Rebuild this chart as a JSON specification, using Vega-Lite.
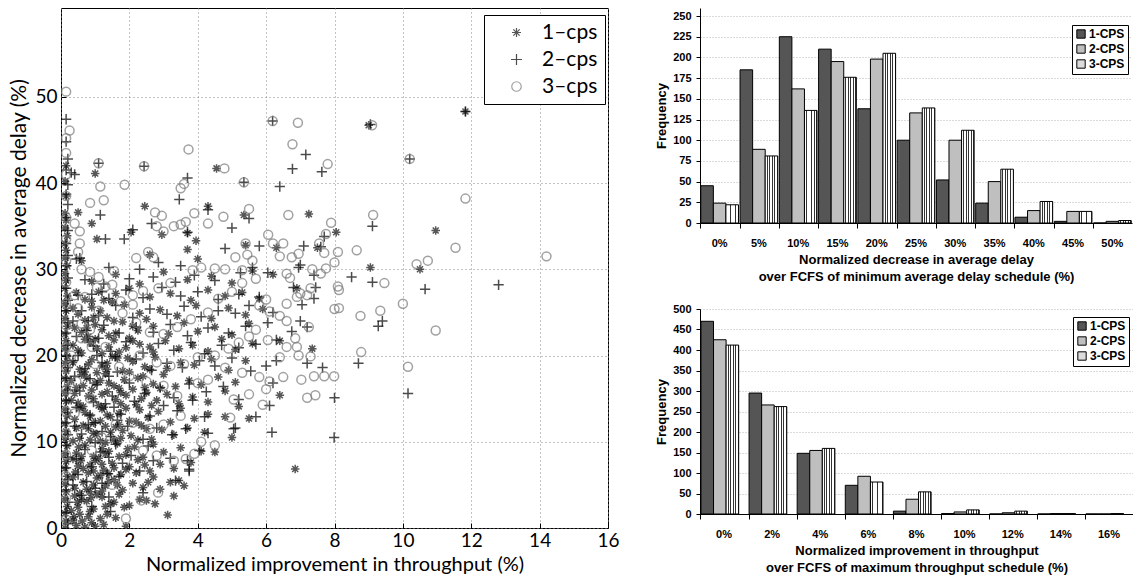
{
  "$schema": "https://vega.github.io/schema/vega-lite/v6.json",
  "background": "white",
  "padding": {"left": 8, "top": 7, "right": 0, "bottom": 0},
  "config": {"font": "Liberation Sans", "view": {"stroke": null}},
  "datasets": {
    "delay": [
      {"bin": "0%", "cps": "1-CPS", "n": 45}, {"bin": "0%", "cps": "2-CPS", "n": 24}, {"bin": "0%", "cps": "3-CPS", "n": 22},
      {"bin": "5%", "cps": "1-CPS", "n": 185}, {"bin": "5%", "cps": "2-CPS", "n": 89}, {"bin": "5%", "cps": "3-CPS", "n": 81},
      {"bin": "10%", "cps": "1-CPS", "n": 225}, {"bin": "10%", "cps": "2-CPS", "n": 162}, {"bin": "10%", "cps": "3-CPS", "n": 136},
      {"bin": "15%", "cps": "1-CPS", "n": 210}, {"bin": "15%", "cps": "2-CPS", "n": 195}, {"bin": "15%", "cps": "3-CPS", "n": 176},
      {"bin": "20%", "cps": "1-CPS", "n": 138}, {"bin": "20%", "cps": "2-CPS", "n": 198}, {"bin": "20%", "cps": "3-CPS", "n": 205},
      {"bin": "25%", "cps": "1-CPS", "n": 100}, {"bin": "25%", "cps": "2-CPS", "n": 133}, {"bin": "25%", "cps": "3-CPS", "n": 139},
      {"bin": "30%", "cps": "1-CPS", "n": 52}, {"bin": "30%", "cps": "2-CPS", "n": 100}, {"bin": "30%", "cps": "3-CPS", "n": 112},
      {"bin": "35%", "cps": "1-CPS", "n": 24}, {"bin": "35%", "cps": "2-CPS", "n": 50}, {"bin": "35%", "cps": "3-CPS", "n": 65},
      {"bin": "40%", "cps": "1-CPS", "n": 7}, {"bin": "40%", "cps": "2-CPS", "n": 15}, {"bin": "40%", "cps": "3-CPS", "n": 26},
      {"bin": "45%", "cps": "1-CPS", "n": 2}, {"bin": "45%", "cps": "2-CPS", "n": 14}, {"bin": "45%", "cps": "3-CPS", "n": 14},
      {"bin": "50%", "cps": "1-CPS", "n": 0}, {"bin": "50%", "cps": "2-CPS", "n": 2}, {"bin": "50%", "cps": "3-CPS", "n": 3}
    ],
    "thru": [
      {"bin": "0%", "cps": "1-CPS", "n": 470}, {"bin": "0%", "cps": "2-CPS", "n": 425}, {"bin": "0%", "cps": "3-CPS", "n": 412},
      {"bin": "2%", "cps": "1-CPS", "n": 295}, {"bin": "2%", "cps": "2-CPS", "n": 266}, {"bin": "2%", "cps": "3-CPS", "n": 262},
      {"bin": "4%", "cps": "1-CPS", "n": 148}, {"bin": "4%", "cps": "2-CPS", "n": 155}, {"bin": "4%", "cps": "3-CPS", "n": 160},
      {"bin": "6%", "cps": "1-CPS", "n": 70}, {"bin": "6%", "cps": "2-CPS", "n": 92}, {"bin": "6%", "cps": "3-CPS", "n": 78},
      {"bin": "8%", "cps": "1-CPS", "n": 7}, {"bin": "8%", "cps": "2-CPS", "n": 36}, {"bin": "8%", "cps": "3-CPS", "n": 54},
      {"bin": "10%", "cps": "1-CPS", "n": 1}, {"bin": "10%", "cps": "2-CPS", "n": 5}, {"bin": "10%", "cps": "3-CPS", "n": 10},
      {"bin": "12%", "cps": "1-CPS", "n": 0}, {"bin": "12%", "cps": "2-CPS", "n": 3}, {"bin": "12%", "cps": "3-CPS", "n": 7},
      {"bin": "14%", "cps": "1-CPS", "n": 0}, {"bin": "14%", "cps": "2-CPS", "n": 1}, {"bin": "14%", "cps": "3-CPS", "n": 1},
      {"bin": "16%", "cps": "1-CPS", "n": 0}, {"bin": "16%", "cps": "2-CPS", "n": 0}, {"bin": "16%", "cps": "3-CPS", "n": 1}
    ],
    "scatter": [
      {"s":1,"x":0.12,"y":0},{"s":1,"x":0.15,"y":0.8},{"s":1,"x":0.12,"y":1.7},{"s":1,"x":0.18,"y":2.5},{"s":1,"x":0.12,"y":3.4},{"s":1,"x":0.15,"y":4.2},{"s":1,"x":0.12,"y":5.1},{"s":1,"x":0.18,"y":6},{"s":1,"x":0.12,"y":6.9},{"s":1,"x":0.15,"y":7.7},{"s":1,"x":0.12,"y":8.6},{"s":1,"x":0.18,"y":9.5},{"s":1,"x":0.12,"y":10.3},{"s":1,"x":0.15,"y":11.2},{"s":1,"x":0.12,"y":12.1},{"s":1,"x":0.18,"y":13},{"s":1,"x":0.12,"y":13.8},{"s":1,"x":0.15,"y":14.7},{"s":1,"x":0.12,"y":15.6},{"s":1,"x":0.18,"y":16.4},{"s":1,"x":0.12,"y":17.3},{"s":1,"x":0.15,"y":18.2},{"s":1,"x":0.12,"y":19.1},{"s":1,"x":0.18,"y":19.9},{"s":1,"x":0.12,"y":20.8},{"s":1,"x":0.15,"y":21.7},{"s":1,"x":0.12,"y":22.5},{"s":1,"x":0.18,"y":23.4},{"s":1,"x":0.12,"y":24.3},{"s":1,"x":0.15,"y":25.2},{"s":1,"x":0.12,"y":26},{"s":1,"x":0.18,"y":26.9},{"s":1,"x":0.12,"y":27.8},{"s":1,"x":0.15,"y":28.7},{"s":1,"x":0.12,"y":29.5},{"s":1,"x":0.18,"y":30.4},{"s":1,"x":0.12,"y":31.3},{"s":1,"x":0.15,"y":32.2},{"s":1,"x":0.12,"y":33},{"s":1,"x":0.18,"y":33.9},{"s":1,"x":0.12,"y":34.8},{"s":1,"x":0.15,"y":35.7},{"s":1,"x":0.12,"y":36.5},{"s":1,"x":0.15,"y":38.5},{"s":1,"x":0.12,"y":40.2},{"s":1,"x":0.15,"y":42.0},
      {"s":1,"x":0.45,"y":0.3},{"s":1,"x":0.7,"y":0.1},{"s":1,"x":0.9,"y":0.6},{"s":1,"x":1.0,"y":0.2},{"s":1,"x":1.15,"y":1.1},{"s":1,"x":0.55,"y":1.6},{"s":1,"x":0.8,"y":1.3},{"s":1,"x":1.6,"y":1.2},{"s":1,"x":1.9,"y":0.2},{"s":1,"x":3.12,"y":1.5},{"s":1,"x":0.35,"y":0.9},
      {"s":1,"x":0.5,"y":2.4},{"s":1,"x":0.75,"y":3.1},{"s":1,"x":0.95,"y":2.2},{"s":1,"x":1.2,"y":3.6},{"s":1,"x":1.45,"y":2.8},{"s":1,"x":1.7,"y":3.9},{"s":1,"x":2.0,"y":2.6},{"s":1,"x":2.3,"y":3.3},{"s":1,"x":0.4,"y":3.7},{"s":1,"x":1.05,"y":3.9},
      {"s":1,"x":0.4,"y":4.6},{"s":1,"x":0.65,"y":5.3},{"s":1,"x":0.85,"y":4.2},{"s":1,"x":1.05,"y":5.8},{"s":1,"x":1.3,"y":4.9},{"s":1,"x":1.55,"y":5.6},{"s":1,"x":1.8,"y":4.4},{"s":1,"x":2.1,"y":5.2},{"s":1,"x":2.4,"y":4.7},{"s":1,"x":2.7,"y":5.9},{"s":1,"x":3.2,"y":5.3},{"s":1,"x":3.45,"y":5.5},{"s":1,"x":0.95,"y":5.0},
      {"s":1,"x":0.5,"y":7.2},{"s":1,"x":0.8,"y":6.4},{"s":1,"x":1.0,"y":7.8},{"s":1,"x":1.25,"y":6.7},{"s":1,"x":1.5,"y":7.5},{"s":1,"x":1.75,"y":6.2},{"s":1,"x":2.0,"y":7.1},{"s":1,"x":2.25,"y":7.9},{"s":1,"x":2.6,"y":6.6},{"s":1,"x":2.9,"y":7.4},{"s":1,"x":3.3,"y":6.9},{"s":1,"x":3.8,"y":7.6},{"s":1,"x":0.65,"y":6.9},
      {"s":1,"x":0.45,"y":8.7},{"s":1,"x":0.7,"y":9.6},{"s":1,"x":0.95,"y":8.3},{"s":1,"x":1.2,"y":9.2},{"s":1,"x":1.4,"y":8.9},{"s":1,"x":1.65,"y":9.8},{"s":1,"x":1.9,"y":8.5},{"s":1,"x":2.15,"y":9.4},{"s":1,"x":2.4,"y":8.2},{"s":1,"x":2.7,"y":9.7},{"s":1,"x":3.0,"y":8.8},{"s":1,"x":3.5,"y":9.3},{"s":1,"x":4.1,"y":8.9},{"s":1,"x":4.5,"y":8.8},{"s":1,"x":1.1,"y":8.1},
      {"s":1,"x":0.55,"y":10.4},{"s":1,"x":0.8,"y":11.5},{"s":1,"x":1.05,"y":10.9},{"s":1,"x":1.3,"y":11.8},{"s":1,"x":1.55,"y":10.2},{"s":1,"x":1.8,"y":11.3},{"s":1,"x":2.05,"y":10.7},{"s":1,"x":2.35,"y":11.9},{"s":1,"x":2.65,"y":10.3},{"s":1,"x":2.95,"y":11.4},{"s":1,"x":3.3,"y":10.8},{"s":1,"x":3.7,"y":11.6},{"s":1,"x":4.2,"y":11.1},{"s":1,"x":5.0,"y":10.5},{"s":1,"x":0.95,"y":11.0},
      {"s":1,"x":0.4,"y":12.6},{"s":1,"x":0.7,"y":13.4},{"s":1,"x":0.95,"y":12.2},{"s":1,"x":1.2,"y":13.8},{"s":1,"x":1.45,"y":12.9},{"s":1,"x":1.7,"y":13.3},{"s":1,"x":2.0,"y":12.4},{"s":1,"x":2.3,"y":13.7},{"s":1,"x":2.55,"y":12.8},{"s":1,"x":2.85,"y":13.5},{"s":1,"x":3.2,"y":12.3},{"s":1,"x":3.5,"y":13.9},{"s":1,"x":3.9,"y":12.7},{"s":1,"x":4.3,"y":13.2},{"s":1,"x":4.8,"y":12.9},{"s":1,"x":0.55,"y":13.9},
      {"s":1,"x":0.5,"y":14.5},{"s":1,"x":0.8,"y":15.3},{"s":1,"x":1.1,"y":14.2},{"s":1,"x":1.35,"y":15.8},{"s":1,"x":1.6,"y":14.9},{"s":1,"x":1.9,"y":15.4},{"s":1,"x":2.2,"y":14.3},{"s":1,"x":2.5,"y":15.7},{"s":1,"x":2.8,"y":14.8},{"s":1,"x":3.1,"y":15.5},{"s":1,"x":3.45,"y":14.4},{"s":1,"x":3.85,"y":15.2},{"s":1,"x":4.3,"y":14.6},{"s":1,"x":4.8,"y":15.9},{"s":1,"x":5.2,"y":14.1},{"s":1,"x":5.5,"y":12.7},
      {"s":1,"x":0.45,"y":16.3},{"s":1,"x":0.75,"y":17.4},{"s":1,"x":1.0,"y":16.8},{"s":1,"x":1.3,"y":17.9},{"s":1,"x":1.55,"y":16.5},{"s":1,"x":1.85,"y":17.2},{"s":1,"x":2.1,"y":16.1},{"s":1,"x":2.4,"y":17.6},{"s":1,"x":2.7,"y":16.7},{"s":1,"x":3.0,"y":17.8},{"s":1,"x":3.35,"y":16.4},{"s":1,"x":3.75,"y":17.1},{"s":1,"x":4.1,"y":16.6},{"s":1,"x":4.6,"y":17.5},{"s":1,"x":5.1,"y":16.9},{"s":1,"x":6.4,"y":15.4},
      {"s":1,"x":0.55,"y":18.4},{"s":1,"x":0.9,"y":19.5},{"s":1,"x":1.2,"y":18.8},{"s":1,"x":1.5,"y":19.9},{"s":1,"x":1.8,"y":18.2},{"s":1,"x":2.1,"y":19.3},{"s":1,"x":2.45,"y":18.7},{"s":1,"x":2.75,"y":19.8},{"s":1,"x":3.1,"y":18.5},{"s":1,"x":3.5,"y":19.2},{"s":1,"x":3.9,"y":18.9},{"s":1,"x":4.4,"y":19.6},{"s":1,"x":4.9,"y":18.3},{"s":1,"x":5.4,"y":19.4},
      {"s":1,"x":0.5,"y":20.6},{"s":1,"x":0.85,"y":21.5},{"s":1,"x":1.2,"y":20.2},{"s":1,"x":1.55,"y":21.8},{"s":1,"x":1.9,"y":20.9},{"s":1,"x":2.3,"y":21.3},{"s":1,"x":2.7,"y":20.4},{"s":1,"x":3.05,"y":21.7},{"s":1,"x":3.45,"y":20.8},{"s":1,"x":3.85,"y":21.2},{"s":1,"x":4.3,"y":20.5},{"s":1,"x":4.7,"y":21.9},{"s":1,"x":5.1,"y":20.7},{"s":1,"x":5.6,"y":21.4},
      {"s":1,"x":0.6,"y":22.7},{"s":1,"x":1.0,"y":23.6},{"s":1,"x":1.4,"y":22.3},{"s":1,"x":1.8,"y":23.9},{"s":1,"x":2.25,"y":22.9},{"s":1,"x":2.7,"y":23.4},{"s":1,"x":3.15,"y":22.5},{"s":1,"x":3.6,"y":23.8},{"s":1,"x":4.0,"y":22.8},{"s":1,"x":4.5,"y":23.3},{"s":1,"x":5.0,"y":22.4},{"s":1,"x":5.5,"y":23.7},{"s":1,"x":6.4,"y":21.7},{"s":1,"x":7.35,"y":20.8},
      {"s":1,"x":0.5,"y":24.8},{"s":1,"x":0.9,"y":25.6},{"s":1,"x":1.35,"y":24.4},{"s":1,"x":1.85,"y":25.9},{"s":1,"x":2.3,"y":24.9},{"s":1,"x":2.9,"y":25.3},{"s":1,"x":3.4,"y":24.6},{"s":1,"x":3.95,"y":25.8},{"s":1,"x":4.4,"y":24.3},{"s":1,"x":4.9,"y":25.5},{"s":1,"x":5.4,"y":24.7},{"s":1,"x":5.9,"y":25.4},
      {"s":1,"x":0.7,"y":26.5},{"s":1,"x":1.1,"y":27.4},{"s":1,"x":1.5,"y":26.2},{"s":1,"x":2.0,"y":27.8},{"s":1,"x":2.6,"y":26.8},{"s":1,"x":3.2,"y":27.2},{"s":1,"x":3.8,"y":26.4},{"s":1,"x":4.3,"y":27.6},{"s":1,"x":4.8,"y":26.9},{"s":1,"x":5.3,"y":27.3},{"s":1,"x":5.8,"y":26.6},{"s":1,"x":6.9,"y":27.8},
      {"s":1,"x":0.9,"y":28.6},{"s":1,"x":1.6,"y":29.4},{"s":1,"x":2.3,"y":28.3},{"s":1,"x":3.0,"y":29.7},{"s":1,"x":3.7,"y":28.8},{"s":1,"x":4.4,"y":29.2},{"s":1,"x":5.0,"y":28.4},{"s":1,"x":5.6,"y":29.8},{"s":1,"x":6.2,"y":29.4},
      {"s":1,"x":0.6,"y":31.0},{"s":1,"x":2.6,"y":31.7},{"s":1,"x":4.0,"y":31.2},{"s":1,"x":5.4,"y":32.8},{"s":1,"x":3.7,"y":32.3},{"s":1,"x":6.3,"y":32.5},{"s":1,"x":7.5,"y":32.5},{"s":1,"x":9.05,"y":30.2},{"s":1,"x":0.5,"y":36.6},{"s":1,"x":0.9,"y":35.3},{"s":1,"x":1.05,"y":33.5},{"s":1,"x":2.05,"y":34.3},{"s":1,"x":2.45,"y":37.3},{"s":1,"x":2.95,"y":34.0},{"s":1,"x":3.95,"y":33.3},{"s":1,"x":4.3,"y":37.3},{"s":1,"x":3.7,"y":34.2},{"s":1,"x":5.35,"y":36.3},{"s":1,"x":7.25,"y":36.4},{"s":1,"x":8.05,"y":34.3},{"s":1,"x":1.0,"y":41.1},{"s":1,"x":4.55,"y":41.7},{"s":1,"x":9.0,"y":46.7},{"s":1,"x":11.83,"y":48.3},{"s":1,"x":10.96,"y":34.5},{"s":1,"x":10.5,"y":30.0},{"s":1,"x":6.85,"y":6.85},
      {"s":1,"x":0.3,"y":2.0},{"s":1,"x":0.6,"y":3.3},{"s":1,"x":0.85,"y":1.9},{"s":1,"x":1.3,"y":2.5},{"s":1,"x":0.35,"y":5.9},{"s":1,"x":0.75,"y":4.5},{"s":1,"x":1.15,"y":6.1},{"s":1,"x":1.4,"y":5.4},{"s":1,"x":0.35,"y":8.0},{"s":1,"x":0.6,"y":8.3},{"s":1,"x":0.85,"y":7.3},{"s":1,"x":1.3,"y":8.6},{"s":1,"x":1.55,"y":7.0},{"s":1,"x":0.35,"y":10.1},{"s":1,"x":0.65,"y":11.9},{"s":1,"x":1.15,"y":10.1},{"s":1,"x":1.45,"y":11.1},{"s":1,"x":1.7,"y":12.0},{"s":1,"x":0.3,"y":14.8},{"s":1,"x":0.65,"y":14.1},{"s":1,"x":0.95,"y":15.0},{"s":1,"x":1.25,"y":14.0},{"s":1,"x":1.75,"y":14.4},{"s":1,"x":0.3,"y":17.1},{"s":1,"x":0.6,"y":17.8},{"s":1,"x":0.9,"y":16.0},{"s":1,"x":1.15,"y":17.1},{"s":1,"x":1.7,"y":16.2},{"s":1,"x":0.35,"y":19.2},{"s":1,"x":0.7,"y":18.1},{"s":1,"x":1.05,"y":18.0},{"s":1,"x":1.35,"y":19.1},{"s":1,"x":1.65,"y":19.7},{"s":1,"x":0.35,"y":21.2},{"s":1,"x":0.7,"y":21.9},{"s":1,"x":1.05,"y":20.8},{"s":1,"x":1.4,"y":21.0},{"s":1,"x":0.4,"y":23.2},{"s":1,"x":0.8,"y":22.2},{"s":1,"x":1.2,"y":23.0},{"s":1,"x":1.6,"y":22.6},{"s":1,"x":0.35,"y":25.5},{"s":1,"x":0.7,"y":24.1},{"s":1,"x":1.15,"y":25.2},{"s":1,"x":0.45,"y":27.3},{"s":1,"x":0.9,"y":26.3},{"s":1,"x":2.2,"y":6.4},{"s":1,"x":2.5,"y":3.2},{"s":1,"x":1.95,"y":9.2},{"s":1,"x":2.2,"y":12.3},{"s":1,"x":2.45,"y":16.3},{"s":1,"x":2.0,"y":18.1},{"s":1,"x":2.6,"y":21.0},{"s":1,"x":2.1,"y":23.4},
      {"s":1,"x":0.38,"y":1.3},{"s":1,"x":0.62,"y":0.8},{"s":1,"x":1.25,"y":0.4},{"s":1,"x":1.35,"y":1.6},{"s":1,"x":0.48,"y":3.0},{"s":1,"x":0.88,"y":3.5},{"s":1,"x":1.55,"y":3.0},{"s":1,"x":1.85,"y":2.4},{"s":1,"x":0.55,"y":4.0},{"s":1,"x":1.2,"y":4.3},{"s":1,"x":1.65,"y":5.0},{"s":1,"x":2.55,"y":5.3},{"s":1,"x":0.42,"y":6.5},{"s":1,"x":0.95,"y":6.6},{"s":1,"x":1.4,"y":6.3},{"s":1,"x":1.9,"y":6.8},{"s":1,"x":0.58,"y":7.8},{"s":1,"x":1.2,"y":7.4},{"s":1,"x":1.7,"y":8.3},{"s":1,"x":2.45,"y":7.3},{"s":1,"x":0.52,"y":9.4},{"s":1,"x":0.85,"y":10.2},{"s":1,"x":1.3,"y":9.9},{"s":1,"x":1.75,"y":10.4},{"s":1,"x":2.25,"y":10.2},{"s":1,"x":0.45,"y":11.6},{"s":1,"x":1.15,"y":12.4},{"s":1,"x":1.6,"y":11.7},{"s":1,"x":2.5,"y":11.5},{"s":1,"x":0.85,"y":13.0},{"s":1,"x":1.35,"y":13.1},{"s":1,"x":1.9,"y":13.9},{"s":1,"x":2.65,"y":14.2},{"s":1,"x":0.4,"y":15.6},{"s":1,"x":1.2,"y":15.5},{"s":1,"x":1.75,"y":15.7},{"s":1,"x":2.35,"y":15.0},{"s":1,"x":0.65,"y":16.5},{"s":1,"x":1.4,"y":16.8},{"s":1,"x":2.25,"y":17.4},{"s":1,"x":2.9,"y":16.2},{"s":1,"x":0.8,"y":19.0},{"s":1,"x":1.35,"y":18.4},{"s":1,"x":1.95,"y":19.7},{"s":1,"x":2.6,"y":18.4},{"s":1,"x":0.6,"y":20.3},{"s":1,"x":1.0,"y":21.9},{"s":1,"x":1.7,"y":20.4},{"s":1,"x":2.1,"y":21.7},{"s":1,"x":0.75,"y":23.2},{"s":1,"x":1.55,"y":24.0},{"s":1,"x":2.0,"y":22.0},{"s":1,"x":2.5,"y":24.2},{"s":1,"x":0.95,"y":24.4},{"s":1,"x":1.6,"y":27.2},{"s":1,"x":1.25,"y":26.4},{"s":1,"x":3.3,"y":3.7},{"s":1,"x":2.9,"y":4.5},{"s":1,"x":2.75,"y":2.8},{"s":1,"x":3.6,"y":4.9},
      {"s":2,"x":0.2,"y":0.5},{"s":2,"x":0.15,"y":1.8},{"s":2,"x":0.2,"y":3.0},{"s":2,"x":0.15,"y":4.4},{"s":2,"x":0.2,"y":5.6},{"s":2,"x":0.15,"y":7.0},{"s":2,"x":0.2,"y":8.2},{"s":2,"x":0.15,"y":9.6},{"s":2,"x":0.2,"y":10.8},{"s":2,"x":0.15,"y":12.2},{"s":2,"x":0.2,"y":13.4},{"s":2,"x":0.15,"y":14.8},{"s":2,"x":0.2,"y":16.0},{"s":2,"x":0.15,"y":17.4},{"s":2,"x":0.2,"y":18.6},{"s":2,"x":0.15,"y":20.0},{"s":2,"x":0.2,"y":21.2},{"s":2,"x":0.15,"y":22.6},{"s":2,"x":0.2,"y":23.8},{"s":2,"x":0.15,"y":25.2},{"s":2,"x":0.2,"y":26.4},{"s":2,"x":0.15,"y":27.8},{"s":2,"x":0.2,"y":29.0},{"s":2,"x":0.15,"y":30.4},{"s":2,"x":0.2,"y":31.6},{"s":2,"x":0.15,"y":33.0},{"s":2,"x":0.2,"y":34.5},{"s":2,"x":0.15,"y":36.0},{"s":2,"x":0.2,"y":37.5},{"s":2,"x":0.15,"y":38.7},{"s":2,"x":0.2,"y":39.8},{"s":2,"x":0.15,"y":41.5},{"s":2,"x":0.2,"y":42.8},{"s":2,"x":0.15,"y":44.8},{"s":2,"x":0.15,"y":47.4},{"s":2,"x":0.3,"y":41.2},{"s":2,"x":0.4,"y":41.0},{"s":2,"x":0.45,"y":31.2},{"s":2,"x":0.55,"y":31.3},
      {"s":2,"x":0.6,"y":3.8},{"s":2,"x":1.0,"y":4.6},{"s":2,"x":1.4,"y":3.6},{"s":2,"x":2.4,"y":4.1},{"s":2,"x":0.5,"y":6.2},{"s":2,"x":0.9,"y":7.1},{"s":2,"x":1.35,"y":6.3},{"s":2,"x":1.8,"y":7.5},{"s":2,"x":2.3,"y":6.6},{"s":2,"x":2.7,"y":7.8},{"s":2,"x":3.35,"y":5.5},{"s":2,"x":3.75,"y":6.6},{"s":2,"x":0.7,"y":9.1},{"s":2,"x":1.15,"y":8.8},{"s":2,"x":1.6,"y":9.7},{"s":2,"x":2.05,"y":8.4},{"s":2,"x":2.55,"y":9.5},{"s":2,"x":3.2,"y":8.1},{"s":2,"x":3.7,"y":7.8},{"s":2,"x":4.05,"y":9.0},{"s":2,"x":0.6,"y":10.9},{"s":2,"x":1.0,"y":12.2},{"s":2,"x":1.45,"y":10.6},{"s":2,"x":1.95,"y":11.8},{"s":2,"x":2.4,"y":10.3},{"s":2,"x":2.8,"y":11.6},{"s":2,"x":3.25,"y":10.8},{"s":2,"x":3.65,"y":11.5},{"s":2,"x":4.3,"y":11.0},{"s":2,"x":5.1,"y":11.6},
      {"s":2,"x":0.85,"y":13.1},{"s":2,"x":1.3,"y":14.4},{"s":2,"x":1.75,"y":13.2},{"s":2,"x":2.15,"y":14.7},{"s":2,"x":2.6,"y":13.0},{"s":2,"x":3.0,"y":14.2},{"s":2,"x":3.4,"y":13.6},{"s":2,"x":3.85,"y":14.8},{"s":2,"x":4.2,"y":12.9},{"s":2,"x":0.55,"y":15.9},{"s":2,"x":1.05,"y":16.6},{"s":2,"x":1.5,"y":15.3},{"s":2,"x":2.0,"y":16.8},{"s":2,"x":2.45,"y":15.6},{"s":2,"x":2.9,"y":16.3},{"s":2,"x":3.3,"y":15.1},{"s":2,"x":3.75,"y":16.7},{"s":2,"x":4.25,"y":15.8},{"s":2,"x":4.75,"y":16.4},{"s":2,"x":5.2,"y":14.9},{"s":2,"x":6.2,"y":16.8},{"s":2,"x":8.0,"y":15.1},
      {"s":2,"x":0.7,"y":18.5},{"s":2,"x":1.2,"y":19.2},{"s":2,"x":1.65,"y":18.1},{"s":2,"x":2.2,"y":19.6},{"s":2,"x":2.65,"y":18.3},{"s":2,"x":3.1,"y":19.1},{"s":2,"x":3.55,"y":18.6},{"s":2,"x":4.05,"y":19.4},{"s":2,"x":4.5,"y":18.8},{"s":2,"x":5.0,"y":19.7},{"s":2,"x":5.55,"y":18.2},{"s":2,"x":6.0,"y":18.8},{"s":2,"x":6.3,"y":19.4},{"s":2,"x":7.2,"y":19.1},{"s":2,"x":7.65,"y":18.6},
      {"s":2,"x":0.5,"y":20.0},{"s":2,"x":0.95,"y":21.1},{"s":2,"x":1.45,"y":20.5},{"s":2,"x":1.9,"y":21.6},{"s":2,"x":2.4,"y":20.3},{"s":2,"x":2.85,"y":21.4},{"s":2,"x":3.3,"y":20.6},{"s":2,"x":3.8,"y":21.5},{"s":2,"x":4.2,"y":20.2},{"s":2,"x":4.7,"y":21.2},{"s":2,"x":5.2,"y":20.9},{"s":2,"x":5.7,"y":21.3},{"s":2,"x":6.3,"y":21.8},
      {"s":2,"x":0.75,"y":22.9},{"s":2,"x":1.25,"y":23.5},{"s":2,"x":1.7,"y":22.6},{"s":2,"x":2.2,"y":23.3},{"s":2,"x":2.7,"y":22.7},{"s":2,"x":3.2,"y":23.6},{"s":2,"x":3.7,"y":22.3},{"s":2,"x":4.3,"y":23.2},{"s":2,"x":4.9,"y":22.6},{"s":2,"x":5.4,"y":23.4},{"s":2,"x":6.05,"y":23.8},{"s":2,"x":6.75,"y":22.8},{"s":2,"x":7.0,"y":24.0},{"s":2,"x":7.2,"y":23.3},
      {"s":2,"x":0.6,"y":25.2},{"s":2,"x":1.1,"y":24.6},{"s":2,"x":1.6,"y":25.8},{"s":2,"x":2.1,"y":24.4},{"s":2,"x":2.6,"y":25.4},{"s":2,"x":3.1,"y":24.8},{"s":2,"x":3.6,"y":25.7},{"s":2,"x":4.1,"y":24.5},{"s":2,"x":4.6,"y":25.2},{"s":2,"x":5.1,"y":24.9},{"s":2,"x":5.5,"y":25.8},{"s":2,"x":6.2,"y":25.0},{"s":2,"x":7.05,"y":25.9},
      {"s":2,"x":0.9,"y":27.1},{"s":2,"x":1.4,"y":26.6},{"s":2,"x":1.9,"y":27.6},{"s":2,"x":2.4,"y":26.7},{"s":2,"x":2.95,"y":27.9},{"s":2,"x":3.5,"y":26.9},{"s":2,"x":4.0,"y":27.4},{"s":2,"x":4.6,"y":26.5},{"s":2,"x":5.2,"y":27.1},{"s":2,"x":5.8,"y":26.8},{"s":2,"x":6.8,"y":27.9},{"s":2,"x":7.45,"y":27.9},{"s":2,"x":7.4,"y":26.6},
      {"s":2,"x":1.25,"y":28.3},{"s":2,"x":2.0,"y":28.9},{"s":2,"x":2.7,"y":29.1},{"s":2,"x":2.85,"y":30.8},{"s":2,"x":3.35,"y":28.5},{"s":2,"x":3.9,"y":29.3},{"s":2,"x":4.5,"y":28.7},{"s":2,"x":5.25,"y":29.6},{"s":2,"x":5.6,"y":30.2},{"s":2,"x":6.05,"y":29.6},{"s":2,"x":6.95,"y":30.2},{"s":2,"x":7.0,"y":30.5},{"s":2,"x":7.4,"y":29.3},{"s":2,"x":1.4,"y":30.2},{"s":2,"x":2.3,"y":30.0},
      {"s":2,"x":4.8,"y":32.4},{"s":2,"x":5.0,"y":34.8},{"s":2,"x":5.8,"y":32.7},{"s":2,"x":7.1,"y":32.7},{"s":2,"x":7.6,"y":32.6},{"s":2,"x":7.7,"y":33.8},{"s":2,"x":8.5,"y":29.1},{"s":2,"x":9.11,"y":28.5},{"s":2,"x":9.11,"y":35.0},{"s":2,"x":8.7,"y":19.1},{"s":2,"x":9.28,"y":23.4},{"s":2,"x":9.4,"y":24.0},{"s":2,"x":10.15,"y":15.6},{"s":2,"x":10.65,"y":27.7},{"s":2,"x":12.8,"y":28.2},{"s":2,"x":7.99,"y":10.5},{"s":2,"x":6.17,"y":11.1},{"s":2,"x":1.15,"y":36.3},{"s":2,"x":1.85,"y":33.5},{"s":2,"x":2.1,"y":34.6},{"s":2,"x":3.5,"y":30.4},{"s":2,"x":3.7,"y":34.3},{"s":2,"x":4.3,"y":36.9},{"s":2,"x":3.46,"y":38.1},{"s":2,"x":3.7,"y":40.6},{"s":2,"x":2.43,"y":41.95},{"s":2,"x":1.1,"y":42.3},{"s":2,"x":5.35,"y":40.1},{"s":2,"x":6.4,"y":39.6},{"s":2,"x":6.77,"y":41.65},{"s":2,"x":7.16,"y":43.3},{"s":2,"x":7.63,"y":41.3},{"s":2,"x":6.19,"y":47.2},{"s":2,"x":11.83,"y":48.3},{"s":2,"x":10.2,"y":42.8},{"s":2,"x":9.05,"y":46.8},{"s":2,"x":3.75,"y":6.8},{"s":2,"x":5.05,"y":11.5},{"s":2,"x":5.7,"y":12.9},{"s":2,"x":6.1,"y":14.2},{"s":2,"x":1.45,"y":1.9},{"s":2,"x":0.9,"y":2.5},{"s":2,"x":1.3,"y":33.5},{"s":2,"x":2.65,"y":35.3},{"s":2,"x":5.5,"y":35.9},
      {"s":2,"x":0.35,"y":5.0},{"s":2,"x":0.75,"y":5.4},{"s":2,"x":1.2,"y":5.2},{"s":2,"x":1.7,"y":6.0},{"s":2,"x":0.45,"y":8.0},{"s":2,"x":1.0,"y":9.9},{"s":2,"x":1.4,"y":8.2},{"s":2,"x":0.4,"y":11.8},{"s":2,"x":0.8,"y":12.0},{"s":2,"x":1.2,"y":11.2},{"s":2,"x":1.65,"y":12.5},{"s":2,"x":0.45,"y":14.0},{"s":2,"x":0.95,"y":14.6},{"s":2,"x":1.55,"y":14.0},{"s":2,"x":0.4,"y":17.6},{"s":2,"x":0.85,"y":17.3},{"s":2,"x":1.4,"y":17.6},{"s":2,"x":0.35,"y":19.4},{"s":2,"x":1.05,"y":20.0},{"s":2,"x":1.6,"y":19.9},{"s":2,"x":0.45,"y":22.2},{"s":2,"x":1.1,"y":22.0},{"s":2,"x":0.35,"y":24.0},{"s":2,"x":0.8,"y":24.0},{"s":2,"x":0.5,"y":27.0},{"s":2,"x":1.2,"y":27.4},{"s":2,"x":0.7,"y":28.8},
      {"s":3,"x":0.15,"y":1.0},{"s":3,"x":0.15,"y":3.5},{"s":3,"x":0.15,"y":6.0},{"s":3,"x":0.15,"y":8.5},{"s":3,"x":0.15,"y":11.0},{"s":3,"x":0.15,"y":13.5},{"s":3,"x":0.15,"y":16.0},{"s":3,"x":0.15,"y":18.5},{"s":3,"x":0.15,"y":21.0},{"s":3,"x":0.15,"y":23.5},{"s":3,"x":0.15,"y":26.0},{"s":3,"x":0.15,"y":28.5},{"s":3,"x":0.15,"y":31.0},{"s":3,"x":0.15,"y":33.5},{"s":3,"x":0.15,"y":36.0},{"s":3,"x":0.15,"y":38.5},{"s":3,"x":0.15,"y":41.0},{"s":3,"x":0.15,"y":43.5},{"s":3,"x":0.15,"y":45.2},{"s":3,"x":0.15,"y":50.6},{"s":3,"x":0.25,"y":46.1},
      {"s":3,"x":0.4,"y":35.3},{"s":3,"x":0.55,"y":34.4},{"s":3,"x":0.55,"y":33.0},{"s":3,"x":0.5,"y":32.0},{"s":3,"x":0.6,"y":30.0},{"s":3,"x":0.85,"y":29.7},{"s":3,"x":1.1,"y":29.1},{"s":3,"x":0.4,"y":27.0},{"s":3,"x":0.7,"y":26.8},{"s":3,"x":1.05,"y":27.9},{"s":3,"x":0.5,"y":25.5},{"s":3,"x":0.4,"y":13.3},{"s":3,"x":0.6,"y":22.0},{"s":3,"x":0.85,"y":23.0},{"s":3,"x":0.9,"y":21.0},{"s":3,"x":0.3,"y":20.0},{"s":3,"x":0.45,"y":17.0},{"s":3,"x":0.85,"y":15.0},{"s":3,"x":1.3,"y":28.0},{"s":3,"x":1.5,"y":28.2},{"s":3,"x":1.55,"y":29.8},{"s":3,"x":1.75,"y":26.3},{"s":3,"x":2.1,"y":25.9},{"s":3,"x":2.2,"y":31.3},{"s":3,"x":2.55,"y":32.0},{"s":3,"x":2.7,"y":31.4},{"s":3,"x":2.75,"y":36.6},{"s":3,"x":2.95,"y":36.2},{"s":3,"x":2.8,"y":35.0},{"s":3,"x":3.0,"y":34.4},{"s":3,"x":3.3,"y":35.0},{"s":3,"x":3.5,"y":35.2},{"s":3,"x":3.65,"y":35.5},{"s":3,"x":3.9,"y":36.5},{"s":3,"x":3.5,"y":39.4},{"s":3,"x":3.6,"y":39.9},{"s":3,"x":4.3,"y":35.3},{"s":3,"x":4.75,"y":36.1},{"s":3,"x":5.1,"y":31.4},{"s":3,"x":5.45,"y":31.7},{"s":3,"x":5.5,"y":37.0},{"s":3,"x":5.3,"y":29.9},{"s":3,"x":4.8,"y":30.0},{"s":3,"x":4.5,"y":30.1},{"s":3,"x":4.1,"y":30.2},{"s":3,"x":3.85,"y":29.9},{"s":3,"x":3.2,"y":28.4},{"s":3,"x":2.85,"y":27.8},{"s":3,"x":2.4,"y":27.5},{"s":3,"x":2.1,"y":27.0},{"s":3,"x":1.8,"y":24.9},{"s":3,"x":2.2,"y":23.8},{"s":3,"x":2.6,"y":22.7},{"s":3,"x":3.0,"y":22.5},{"s":3,"x":3.4,"y":23.3},{"s":3,"x":3.8,"y":24.2},{"s":3,"x":4.3,"y":25.0},{"s":3,"x":4.6,"y":26.6},{"s":3,"x":5.0,"y":27.4},{"s":3,"x":5.3,"y":28.4},{"s":3,"x":5.7,"y":28.9},{"s":3,"x":6.0,"y":26.5},{"s":3,"x":6.1,"y":25.1},{"s":3,"x":6.4,"y":24.6},{"s":3,"x":6.6,"y":24.0},{"s":3,"x":6.6,"y":26.0},{"s":3,"x":6.9,"y":26.8},{"s":3,"x":7.0,"y":27.2},{"s":3,"x":7.2,"y":27.0},{"s":3,"x":6.6,"y":29.5},{"s":3,"x":6.4,"y":31.5},{"s":3,"x":6.5,"y":33.0},{"s":3,"x":6.75,"y":31.4},{"s":3,"x":6.95,"y":31.8},{"s":3,"x":7.35,"y":30.0},{"s":3,"x":7.3,"y":27.8},{"s":3,"x":7.6,"y":29.5},{"s":3,"x":7.75,"y":30.1},{"s":3,"x":7.7,"y":31.9},{"s":3,"x":7.75,"y":34.1},{"s":3,"x":7.55,"y":33.0},{"s":3,"x":8.1,"y":32.0},{"s":3,"x":8.0,"y":30.8},{"s":3,"x":8.1,"y":28.0},{"s":3,"x":8.0,"y":25.4},{"s":3,"x":7.9,"y":35.4},{"s":3,"x":7.8,"y":42.2},{"s":3,"x":6.93,"y":47.0},{"s":3,"x":6.77,"y":44.5},{"s":3,"x":6.65,"y":36.3},{"s":3,"x":6.06,"y":34.0},{"s":3,"x":6.2,"y":33.0},{"s":3,"x":5.4,"y":33.0},{"s":3,"x":5.6,"y":31.0},{"s":3,"x":5.8,"y":25.8},{"s":3,"x":5.7,"y":23.0},{"s":3,"x":5.5,"y":22.2},{"s":3,"x":5.2,"y":21.5},{"s":3,"x":4.9,"y":20.8},{"s":3,"x":4.5,"y":20.0},{"s":3,"x":4.0,"y":19.8},{"s":3,"x":3.6,"y":19.0},{"s":3,"x":3.2,"y":18.8},{"s":3,"x":2.8,"y":19.2},{"s":3,"x":2.3,"y":20.0},{"s":3,"x":2.0,"y":17.6},{"s":3,"x":2.5,"y":17.0},{"s":3,"x":3.0,"y":16.5},{"s":3,"x":3.4,"y":15.3},{"s":3,"x":4.0,"y":16.8},{"s":3,"x":4.3,"y":17.2},{"s":3,"x":4.8,"y":18.6},{"s":3,"x":5.3,"y":18.0},{"s":3,"x":5.8,"y":17.5},{"s":3,"x":6.1,"y":17.0},{"s":3,"x":6.05,"y":21.8},{"s":3,"x":6.4,"y":19.8},{"s":3,"x":6.5,"y":17.5},{"s":3,"x":6.9,"y":21.0},{"s":3,"x":6.95,"y":20.0},{"s":3,"x":6.6,"y":21.0},{"s":3,"x":5.9,"y":14.3},{"s":3,"x":6.0,"y":16.1},{"s":3,"x":5.5,"y":15.5},{"s":3,"x":5.05,"y":14.9},{"s":3,"x":4.95,"y":12.8},{"s":3,"x":4.1,"y":10.0},{"s":3,"x":4.5,"y":9.6},{"s":3,"x":3.9,"y":8.6},{"s":3,"x":3.65,"y":8.0},{"s":3,"x":3.3,"y":7.8},{"s":3,"x":2.8,"y":8.4},{"s":3,"x":2.4,"y":9.0},{"s":3,"x":2.35,"y":3.2},{"s":3,"x":2.84,"y":4.1},{"s":3,"x":1.9,"y":1.1},{"s":3,"x":1.5,"y":5.0},{"s":3,"x":2.1,"y":12.2},{"s":3,"x":2.6,"y":11.5},{"s":3,"x":3.0,"y":12.0},{"s":3,"x":3.5,"y":13.0},{"s":3,"x":1.6,"y":12.0},{"s":3,"x":1.2,"y":10.5},{"s":3,"x":0.9,"y":9.0},{"s":3,"x":1.7,"y":18.7},{"s":3,"x":1.3,"y":21.0},{"s":3,"x":1.0,"y":19.0},{"s":3,"x":1.1,"y":25.2},{"s":3,"x":0.6,"y":23.7},
      {"s":3,"x":14.2,"y":31.5},{"s":3,"x":11.54,"y":32.5},{"s":3,"x":11.83,"y":38.2},{"s":3,"x":10.73,"y":31.0},{"s":3,"x":10.4,"y":30.6},{"s":3,"x":10.96,"y":22.9},{"s":3,"x":10.0,"y":26.0},{"s":3,"x":10.15,"y":18.7},{"s":3,"x":9.46,"y":28.4},{"s":3,"x":9.34,"y":25.2},{"s":3,"x":9.13,"y":36.3},{"s":3,"x":9.1,"y":46.7},{"s":3,"x":8.78,"y":20.4},{"s":3,"x":8.76,"y":24.6},{"s":3,"x":8.65,"y":32.2},{"s":3,"x":8.13,"y":25.5},{"s":3,"x":8.13,"y":27.6},{"s":3,"x":7.99,"y":17.6},{"s":3,"x":7.7,"y":17.6},{"s":3,"x":7.4,"y":17.6},{"s":3,"x":7.3,"y":19.9},{"s":3,"x":7.2,"y":15.1},{"s":3,"x":7.44,"y":15.4},{"s":3,"x":7.03,"y":17.2},{"s":3,"x":6.19,"y":47.2},{"s":3,"x":3.73,"y":43.9},{"s":3,"x":4.78,"y":41.7},{"s":3,"x":1.86,"y":39.8},{"s":3,"x":1.15,"y":39.6},{"s":3,"x":2.43,"y":41.95},{"s":3,"x":1.1,"y":42.3},{"s":3,"x":5.35,"y":40.1},{"s":3,"x":10.2,"y":42.8},{"s":3,"x":6.85,"y":22.0},{"s":3,"x":7.25,"y":23.3},{"s":3,"x":6.7,"y":29.0},{"s":3,"x":1.25,"y":38.0},{"s":3,"x":0.85,"y":37.7}
    ]
  },
  "hconcat": [
    {
      "width": 547,
      "height": 520,
      "view": {"stroke": "black", "strokeWidth": 1},
      "data": {"name": "scatter"},
      "mark": {"type": "point", "filled": false, "strokeWidth": 1.5, "size": 80, "clip": true},
      "encoding": {
        "x": {
          "field": "x", "type": "quantitative",
          "scale": {"domain": [0, 16], "nice": false, "zero": false},
          "axis": {
            "title": "Normalized improvement in throughput (%)",
            "values": [0, 2, 4, 6, 8, 10, 12, 14, 16],
            "grid": true, "gridColor": "#888888", "gridDash": [1, 3], "gridWidth": 1,
            "domain": false, "tickSize": -5, "tickColor": "black",
            "labelFont": "Lato", "labelFontSize": 19, "labelColor": "black", "labelPadding": 8, "labelFlush": false,
            "titleFont": "Lato", "titleFontSize": 20, "titleFontWeight": "normal", "titleColor": "black", "titlePadding": 4
          }
        },
        "y": {
          "field": "y", "type": "quantitative",
          "scale": {"domain": [0, 60.3], "nice": false, "zero": false},
          "axis": {
            "title": "Normalized decrease in average delay (%)",
            "values": [0, 10, 20, 30, 40, 50],
            "grid": true, "gridColor": "#888888", "gridDash": [1, 3], "gridWidth": 1,
            "domain": false, "tickSize": -5, "tickColor": "black",
            "labelFont": "Lato", "labelFontSize": 19, "labelColor": "black", "labelPadding": 9, "labelFlush": false,
            "titleFont": "Lato", "titleFontSize": 21, "titleFontWeight": "normal", "titleColor": "black", "titlePadding": 5
          }
        },
        "shape": {
          "field": "s", "type": "nominal",
          "scale": {"domain": [1, 2, 3], "range": ["M-0.95,0L0.95,0M0,-0.95L0,0.95M-0.67,-0.67L0.67,0.67M-0.67,0.67L0.67,-0.67", "M-1.15,0L1.15,0M0,-1.15L0,1.15", "circle"]},
          "legend": {
            "orient": "none", "legendX": 423, "legendY": 7, "title": null,
            "fillColor": "white", "strokeColor": "black", "padding": 7,
            "labelFont": "Lato", "labelFontSize": 21, "labelColor": "black", "labelExpr": "datum.label + '–cps'",
            "symbolSize": 90, "symbolStrokeWidth": 1.2, "rowPadding": 5, "symbolOffset": 15, "labelOffset": 15
          }
        },
        "stroke": {
          "field": "s", "type": "nominal",
          "scale": {"domain": [1, 2, 3], "range": ["#111111", "#000000", "#7a7a7a"]}
        }
      }
    },
    {
      "vconcat": [
        {
          "width": 432,
          "height": 215,
          "data": {"name": "delay"},
          "mark": {"type": "bar", "stroke": "black", "strokeWidth": 1},
          "encoding": {
            "x": {
              "field": "bin", "type": "nominal", "sort": null,
              "scale": {"paddingInner": 0.04, "paddingOuter": 0.02},
              "axis": {
                "title": ["Normalized decrease in average delay", "over FCFS of minimum average delay schedule (%)"],
                "labelAngle": 0, "bandPosition": 0, "tickSize": 5, "tickColor": "black",
                "domainColor": "black", "labelFontWeight": "bold", "labelFontSize": 11, "labelColor": "black", "labelPadding": 9,
                "titleFontWeight": "bold", "titleFontSize": 13, "titleColor": "black", "titlePadding": 5, "titleLineHeight": 17
              }
            },
            "xOffset": {"field": "cps", "type": "nominal", "scale": {"paddingInner": 0, "paddingOuter": 0}},
            "y": {
              "field": "n", "type": "quantitative",
              "scale": {"domain": [0, 259.7], "nice": false},
              "axis": {
                "title": "Frequency", "values": [0, 25, 50, 75, 100, 125, 150, 175, 200, 225, 250],
                "grid": true, "gridColor": "#999999", "gridDash": [1, 2], "gridOpacity": 0.7,
                "tickSize": 4, "tickColor": "black", "domainColor": "black",
                "labelFontWeight": "bold", "labelFontSize": 11, "labelColor": "black", "labelPadding": 5,
                "titleFontWeight": "bold", "titleFontSize": 13, "titleColor": "black", "titlePadding": 4
              }
            },
            "fill": {
              "field": "cps", "type": "nominal",
              "scale": {"domain": ["1-CPS", "2-CPS", "3-CPS"], "range": ["#555555", "#bfbfbf", "#dcdcdc"]},
              "condition": {"test": "datum.cps === '3-CPS'", "value": {"gradient": "linear", "x1": 0, "y1": 0, "x2": 1, "y2": 0, "stops": [
                  {"offset": 0, "color": "#ffffff"}, {"offset": 0.13, "color": "#ffffff"}, {"offset": 0.13, "color": "#333333"}, {"offset": 0.2, "color": "#333333"},
                  {"offset": 0.2, "color": "#ffffff"}, {"offset": 0.33, "color": "#ffffff"}, {"offset": 0.33, "color": "#333333"}, {"offset": 0.4, "color": "#333333"},
                  {"offset": 0.4, "color": "#ffffff"}, {"offset": 0.53, "color": "#ffffff"}, {"offset": 0.53, "color": "#333333"}, {"offset": 0.6, "color": "#333333"},
                  {"offset": 0.6, "color": "#ffffff"}, {"offset": 0.73, "color": "#ffffff"}, {"offset": 0.73, "color": "#333333"}, {"offset": 0.8, "color": "#333333"},
                  {"offset": 0.8, "color": "#ffffff"}, {"offset": 0.93, "color": "#ffffff"}, {"offset": 0.93, "color": "#333333"}, {"offset": 1, "color": "#333333"}
                ]}},
              "legend": {
                "orient": "none", "legendX": 372, "legendY": 17, "title": null,
                "fillColor": "white", "strokeColor": "black", "padding": 3,
                "labelFontWeight": "bold", "labelFontSize": 12, "labelColor": "black", "labelOffset": 2,
                "symbolType": "square", "symbolSize": 70, "symbolStrokeColor": "black", "symbolStrokeWidth": 1, "rowPadding": 1
              }
            }
          }
        },
        {
          "width": 433,
          "height": 205,
          "data": {"name": "thru"},
          "mark": {"type": "bar", "stroke": "black", "strokeWidth": 1},
          "encoding": {
            "x": {
              "field": "bin", "type": "nominal", "sort": null,
              "scale": {"paddingInner": 0.04, "paddingOuter": 0.02},
              "axis": {
                "title": ["Normalized improvement in throughput", "over FCFS of maximum throughput schedule (%)"],
                "labelAngle": 0, "bandPosition": 0, "tickSize": 5, "tickColor": "black",
                "domainColor": "black", "labelFontWeight": "bold", "labelFontSize": 11, "labelColor": "black", "labelPadding": 9,
                "titleFontWeight": "bold", "titleFontSize": 13, "titleColor": "black", "titlePadding": 5, "titleLineHeight": 17
              }
            },
            "xOffset": {"field": "cps", "type": "nominal", "scale": {"paddingInner": 0, "paddingOuter": 0}},
            "y": {
              "field": "n", "type": "quantitative",
              "scale": {"domain": [0, 500], "nice": false},
              "axis": {
                "title": "Frequency", "values": [0, 50, 100, 150, 200, 250, 300, 350, 400, 450, 500],
                "grid": true, "gridColor": "#999999", "gridDash": [1, 2], "gridOpacity": 0.7,
                "tickSize": 4, "tickColor": "black", "domainColor": "black",
                "labelFontWeight": "bold", "labelFontSize": 11, "labelColor": "black", "labelPadding": 5,
                "titleFontWeight": "bold", "titleFontSize": 13, "titleColor": "black", "titlePadding": 4
              }
            },
            "fill": {
              "field": "cps", "type": "nominal",
              "scale": {"domain": ["1-CPS", "2-CPS", "3-CPS"], "range": ["#555555", "#bfbfbf", "#dcdcdc"]},
              "condition": {"test": "datum.cps === '3-CPS'", "value": {"gradient": "linear", "x1": 0, "y1": 0, "x2": 1, "y2": 0, "stops": [
                  {"offset": 0, "color": "#ffffff"}, {"offset": 0.13, "color": "#ffffff"}, {"offset": 0.13, "color": "#333333"}, {"offset": 0.2, "color": "#333333"},
                  {"offset": 0.2, "color": "#ffffff"}, {"offset": 0.33, "color": "#ffffff"}, {"offset": 0.33, "color": "#333333"}, {"offset": 0.4, "color": "#333333"},
                  {"offset": 0.4, "color": "#ffffff"}, {"offset": 0.53, "color": "#ffffff"}, {"offset": 0.53, "color": "#333333"}, {"offset": 0.6, "color": "#333333"},
                  {"offset": 0.6, "color": "#ffffff"}, {"offset": 0.73, "color": "#ffffff"}, {"offset": 0.73, "color": "#333333"}, {"offset": 0.8, "color": "#333333"},
                  {"offset": 0.8, "color": "#ffffff"}, {"offset": 0.93, "color": "#ffffff"}, {"offset": 0.93, "color": "#333333"}, {"offset": 1, "color": "#333333"}
                ]}},
              "legend": {
                "orient": "none", "legendX": 373, "legendY": 8, "title": null,
                "fillColor": "white", "strokeColor": "black", "padding": 3,
                "labelFontWeight": "bold", "labelFontSize": 12, "labelColor": "black", "labelOffset": 2,
                "symbolType": "square", "symbolSize": 70, "symbolStrokeColor": "black", "symbolStrokeWidth": 1, "rowPadding": 1
              }
            }
          }
        }
      ],
      "spacing": 20,
      "resolve": {"scale": {"fill": "independent"}, "legend": {"fill": "independent"}}
    }
  ],
  "spacing": 35
}
